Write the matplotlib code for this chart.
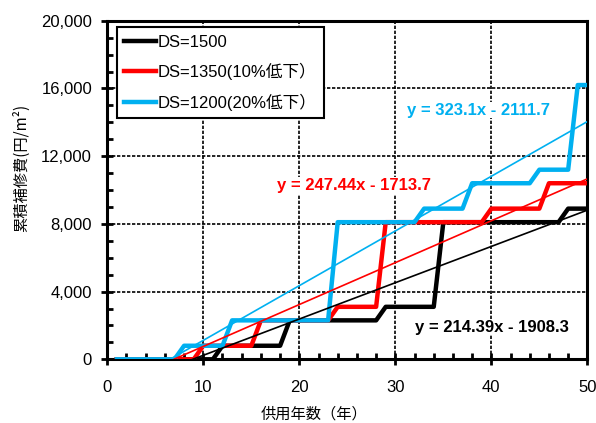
import numpy as np
import matplotlib
matplotlib.use("Agg")
import matplotlib.pyplot as plt
from matplotlib.ticker import MultipleLocator, FuncFormatter

plt.rcParams['font.family'] = ['Liberation Sans', 'Noto Sans CJK JP']

# data (cumulative repair cost per year of service)
years = np.arange(1, 51)

# (start year, value) of each plateau
ds1500_steps = [(1, 0), (12, 800), (19, 2300), (29, 3100), (35, 8100), (48, 8900)]
ds1350_steps = [(1, 0), (10, 800), (16, 2300), (24, 3100), (29, 8100), (40, 8900), (46, 10400)]
ds1200_steps = [(1, 0), (8, 800), (13, 2300), (24, 8100), (33, 8900), (38, 10400), (45, 11200), (49, 16200)]

labels = ['DS=1500', 'DS=1350(10%低下）', 'DS=1200(20%低下）']
colors = ['black', '#FF0000', '#00B0F0']

# linear trend lines shown on the chart
slopes = [214.39, 247.44, 323.1]
intercepts = [-1908.3, -1713.7, -2111.7]
eq_texts = ['y = 214.39x - 1908.3', 'y = 247.44x - 1713.7', 'y = 323.1x - 2111.7']


def expand(steps):
    vals = np.zeros(len(years))
    for start, v in steps:
        vals[years >= start] = v
    return vals


series = [expand(s) for s in (ds1500_steps, ds1350_steps, ds1200_steps)]

fig = plt.figure(figsize=(5.96, 4.23), dpi=100)
ax = fig.add_axes([0.180, 0.1506, 0.8055, 0.8004])

for vals, lab, c in zip(series, labels, colors):
    ax.plot(years, vals, color=c, lw=3.2, label=lab, zorder=3)

for m, b, c in zip(slopes, intercepts, colors):
    ax.plot(years, m * years + b, color=c, lw=1.2, zorder=4)

# equation labels (white box hides the grid behind them)
box = dict(facecolor='white', edgecolor='none', pad=0.5)
ax.text(32.0, 1900, eq_texts[0], color='black', fontsize=12, fontweight='bold',
        va='center', ha='left', bbox=box, zorder=5)
ax.text(17.7, 10260, eq_texts[1], color='#FF0000', fontsize=12, fontweight='bold',
        va='center', ha='left', bbox=box, zorder=5)
ax.text(31.2, 14725, eq_texts[2], color='#00B0F0', fontsize=12, fontweight='bold',
        va='center', ha='left', bbox=box, zorder=5)

ax.set_xlim(0, 50)
ax.set_ylim(0, 20000)
ax.xaxis.set_major_locator(MultipleLocator(10))
ax.xaxis.set_minor_locator(MultipleLocator(2))
ax.yaxis.set_major_locator(MultipleLocator(4000))
ax.yaxis.set_minor_locator(MultipleLocator(1000))
ax.yaxis.set_major_formatter(FuncFormatter(lambda v, p: f'{int(v):,}'))

ax.tick_params(which='major', direction='inout', length=8, width=2, labelsize=12, pad=7)
ax.tick_params(which='minor', direction='in', length=4, width=2)
ax.tick_params(axis='x', which='major', pad=11)

for sp in ax.spines.values():
    sp.set_linewidth(2.2)

ax.grid(True, which='major', color='black', linestyle=(0, (2, 1)), lw=1.2, zorder=1)

ax.set_xlabel('供用年数（年）', fontsize=11, family=['Noto Sans CJK JP'])
ax.xaxis.set_label_coords(0.431, -0.138)
ax.set_ylabel('累積補修費(円/m²)', fontsize=11, family=['Noto Sans CJK JP', 'Liberation Sans'])
ax.yaxis.set_label_coords(-0.160, 0.565)

leg = ax.legend(loc='upper left', fontsize=12, handlelength=1.9, handletextpad=0.1,
                borderpad=0.45, labelspacing=0.78, fancybox=False, framealpha=1,
                bbox_to_anchor=(0.02, 0.98), borderaxespad=0)
leg.get_frame().set_edgecolor('black')
leg.get_frame().set_linewidth(1.5)

fig.savefig('out.png', dpi=100)
